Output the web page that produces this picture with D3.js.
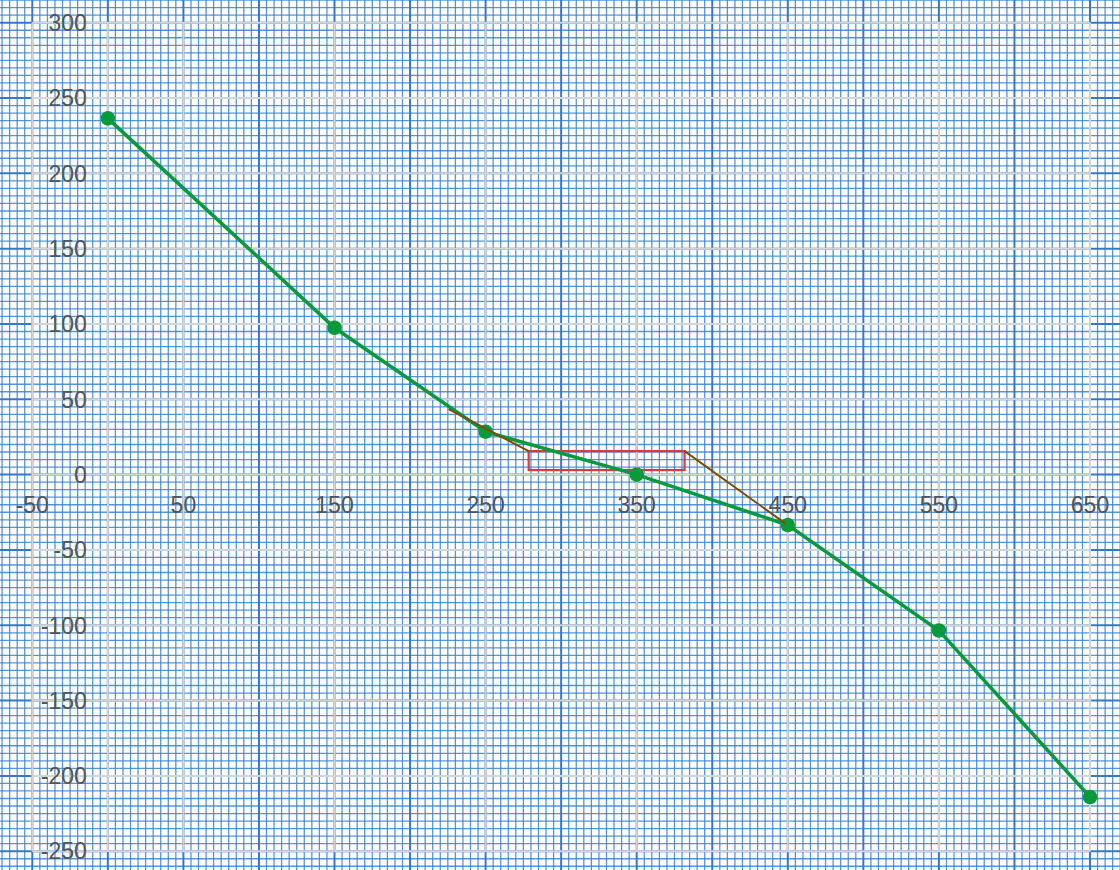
<!DOCTYPE html>
<html>
<head>
<meta charset="utf-8">
<script src="https://cdn.jsdelivr.net/npm/d3@7/dist/d3.min.js"></script>
<style>
  html, body { margin: 0; padding: 0; background: #fff; }
  svg { display: block; }
  text { font-family: "Liberation Sans", Arial, Helvetica, sans-serif; }
</style>
</head>
<body>
<svg id="chart" width="1120" height="870"></svg>
<script>
// Axis tick values
const xTicks = [-50, 50, 150, 250, 350, 450, 550, 650];
const yTicks = [300, 250, 200, 150, 100, 50, 0, -50, -100, -150, -200, -250];

// Sampled curve
const xValues = [0, 150, 250, 350, 450, 550, 650];
const yValues = [236.5, 97.5, 28.5, 0, -33.5, -103.5, -214];

// Annotation box (data units) and its two leader lines
const boxX = [278.5, 381.7];
const boxY = [3, 15.6];
const leaderStart = [[225.5, 43.5], [381.7, 15.6]];
const leaderEnd = [[278.5, 15.6], [448.5, -32.5]];

const W = 1120, H = 870;
const svg = d3.select("#chart");

const x = d3.scaleLinear().domain([-50, 650]).range([32.3, 1090]);
const y = d3.scaleLinear().domain([-250, 300]).range([851.2, 22.7]);

// --- graph-paper background over the whole page ---
const paper = svg.append("g").attr("class", "paper");
const xs = d3.range(-75, 676, 5);
const ys = d3.range(-265, 321, 5);
paper.selectAll("line.vminor").data(xs.filter(v => v % 50 !== 0)).join("line")
  .attr("x1", d => x(d)).attr("x2", d => x(d)).attr("y1", 0).attr("y2", H)
  .attr("stroke", "#3a82d0").attr("stroke-opacity", 0.85).attr("stroke-width", 1.3);
paper.selectAll("line.hminor").data(ys.filter(v => v % 50 !== 0)).join("line")
  .attr("y1", d => y(d)).attr("y2", d => y(d)).attr("x1", 0).attr("x2", W)
  .attr("stroke", "#3a82d0").attr("stroke-opacity", 0.85).attr("stroke-width", 1.3);
paper.selectAll("line.vmajor").data(xs.filter(v => v % 50 === 0)).join("line")
  .attr("x1", d => x(d)).attr("x2", d => x(d)).attr("y1", 0).attr("y2", H)
  .attr("stroke", "#3678c8").attr("stroke-width", 2);
paper.selectAll("line.hmajor").data(ys.filter(v => v % 50 === 0)).join("line")
  .attr("y1", d => y(d)).attr("y2", d => y(d)).attr("x1", 0).attr("x2", W)
  .attr("stroke", "#3678c8").attr("stroke-width", 2);

// --- plot grid (grey) ---
const grid = svg.append("g").attr("class", "grid");
const [x0, x1] = x.range();
const [y0, y1] = y.range();
grid.selectAll("line.gx").data([0, ...xTicks]).join("line")
  .attr("x1", d => x(d)).attr("x2", d => x(d)).attr("y1", y1).attr("y2", y0)
  .attr("stroke", "#d2d4d8").attr("stroke-width", 2);
grid.selectAll("line.gy").data(yTicks).join("line")
  .attr("y1", d => y(d)).attr("y2", d => y(d)).attr("x1", x0).attr("x2", x1)
  .attr("stroke", "#d2d4d8").attr("stroke-width", 2);

// --- tick labels ---
const labels = svg.append("g").attr("fill", "#555").attr("font-size", 23);
labels.selectAll("text.xl").data(xTicks).join("text")
  .attr("x", d => x(d)).attr("y", y(0) + 38.5)
  .attr("text-anchor", "middle").text(d => d);
labels.selectAll("text.yl").data(yTicks).join("text")
  .attr("x", x(0) - 21).attr("y", d => y(d)).attr("dy", "0.36em")
  .attr("text-anchor", "end").text(d => d);

// --- annotation box ---
svg.append("rect")
  .attr("x", x(boxX[0])).attr("y", y(boxY[1]))
  .attr("width", x(boxX[1]) - x(boxX[0])).attr("height", y(boxY[0]) - y(boxY[1]))
  .attr("fill", "none").attr("stroke", "#d63a44").attr("stroke-width", 2.2);

// --- curve ---
const pts = xValues.map((v, i) => [v, yValues[i]]);
svg.append("path").datum(pts)
  .attr("d", d3.line().x(d => x(d[0])).y(d => y(d[1])))
  .attr("fill", "none").attr("stroke", "#0a9a3c").attr("stroke-width", 3.6);
svg.selectAll("circle.pt").data(pts).join("circle")
  .attr("cx", d => x(d[0])).attr("cy", d => y(d[1])).attr("r", 7.3)
  .attr("fill", "#0a9a3c");

// --- leader lines ---
svg.selectAll("line.leader").data(leaderStart.map((s, i) => [s, leaderEnd[i]])).join("line")
  .attr("x1", d => x(d[0][0])).attr("y1", d => y(d[0][1]))
  .attr("x2", d => x(d[1][0])).attr("y2", d => y(d[1][1]))
  .attr("stroke", "#7f4d00").attr("stroke-width", 2);
</script>
</body>
</html>
